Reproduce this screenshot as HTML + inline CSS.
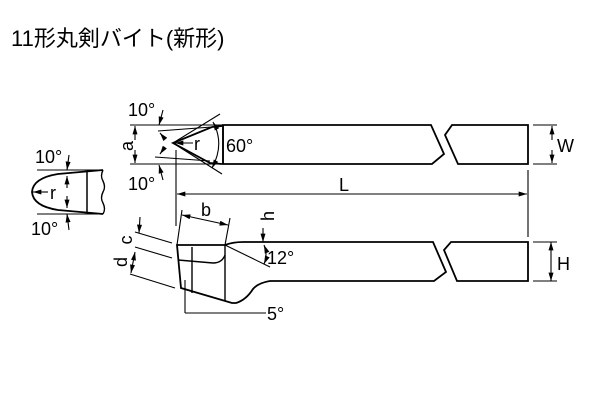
<!DOCTYPE html>
<html><head><meta charset="utf-8"><style>
body{margin:0;background:#fff;width:600px;height:412px;overflow:hidden}
text{font-family:"Liberation Sans","Noto Sans CJK JP",sans-serif;fill:#000}
</style></head><body>
<svg width="600" height="412" viewBox="0 0 600 412" xmlns="http://www.w3.org/2000/svg">
<defs><marker id="a" viewBox="0 0 10 6" refX="10" refY="3" markerWidth="9" markerHeight="5" orient="auto-start-reverse" markerUnits="userSpaceOnUse"><path d="M0,0L10,3L0,6z"/></marker></defs>
<text x="11" y="46" font-size="22">11形丸剣バイト(新形)</text>
<g fill="none" stroke="#000" stroke-width="1.1">
<!-- front view -->
<line x1="37" y1="170" x2="103" y2="170"/><line x1="37" y1="214" x2="103" y2="214"/>
<path d="M103,170 L58,174 Q33,178 32,192 Q33,206 58,210 L103,214" stroke-width="1.8"/>
<path d="M103,170 q-3,6 0,11 q3,6 0,11 q-3,6 0,11 q3,6 0,11" stroke-width="1.4"/>
<line x1="87" y1="172" x2="87" y2="212" stroke-width="1.5"/>
<line x1="67" y1="188" x2="67" y2="176" marker-end="url(#a)"/><line x1="67" y1="196" x2="67" y2="208" marker-end="url(#a)"/>
<line x1="48" y1="192" x2="33" y2="192" marker-end="url(#a)"/>
<line x1="69" y1="155" x2="67" y2="170" marker-end="url(#a)"/><line x1="69" y1="230" x2="67" y2="214" marker-end="url(#a)"/>
<!-- top view -->
<line x1="130" y1="125" x2="223" y2="125"/><line x1="130" y1="164" x2="223" y2="164"/>
<line x1="135" y1="140" x2="135" y2="126" marker-end="url(#a)"/><line x1="135" y1="150" x2="135" y2="163" marker-end="url(#a)"/>
<path d="M223,125 L431,125 L444,154 L432,164 L223,164 Z" stroke-width="1.8"/>
<path d="M222,126 L212,127 L173,143 L210,163 L222,164" stroke-width="1.8"/>
<line x1="223" y1="125" x2="223" y2="164" stroke-width="1.5"/>
<path d="M452,125 L528,125 L528,164 L458,164 L445,135 Z" stroke-width="1.8"/>
<line x1="158" y1="131" x2="212" y2="127"/><line x1="155" y1="157" x2="210" y2="161"/>
<line x1="173" y1="143" x2="222" y2="174"/><line x1="173" y1="143" x2="220" y2="114"/>
<path d="M213,122 Q225,144 212,168" marker-start="url(#a)" marker-end="url(#a)"/>
<line x1="165" y1="139" x2="160" y2="133" marker-end="url(#a)"/><line x1="165" y1="147" x2="160" y2="154" marker-end="url(#a)"/>
<line x1="193" y1="143" x2="175" y2="143" marker-end="url(#a)"/>
<line x1="163" y1="110" x2="159" y2="125" marker-end="url(#a)"/><line x1="163" y1="180" x2="159" y2="165" marker-end="url(#a)"/>
<line x1="533" y1="125" x2="557" y2="125"/><line x1="533" y1="164" x2="557" y2="164"/>
<line x1="552" y1="140" x2="552" y2="126" marker-end="url(#a)"/><line x1="552" y1="150" x2="552" y2="163" marker-end="url(#a)"/>
<!-- L -->
<line x1="176" y1="150" x2="176" y2="226"/><line x1="528" y1="170" x2="528" y2="237"/>
<line x1="177" y1="194" x2="527" y2="194" marker-start="url(#a)" marker-end="url(#a)"/>
<!-- side view -->
<path d="M243,242 L433,242 L446,272 L434,281 L270,281 Q258,283 253,289 Q246,300 236,303 L232,303 L181,288 L177,245 L225,245 Q233,242 243,242" stroke-width="1.8"/>
<path d="M451,242 L528,242 L528,281 L457,281 L444,250 Z" stroke-width="1.8"/>
<line x1="225" y1="245" x2="225" y2="301" stroke-width="1.4"/>
<line x1="192" y1="247" x2="192" y2="293" stroke-width="1.4"/>
<path d="M178,260 L213,263 Q222,263 225,255" stroke-width="1.4"/>
<line x1="185" y1="280" x2="185" y2="313"/><line x1="185" y1="313" x2="266" y2="313"/>
<line x1="225" y1="245" x2="270" y2="267"/><line x1="243" y1="242" x2="270" y2="242"/>
<path d="M264,245 Q268,255 264,264" marker-start="url(#a)" marker-end="url(#a)"/>
<line x1="263" y1="228" x2="263" y2="242" marker-end="url(#a)"/>
<line x1="177" y1="245" x2="182" y2="210"/><line x1="225" y1="245" x2="230" y2="218"/>
<line x1="182" y1="215" x2="228" y2="225" marker-start="url(#a)" marker-end="url(#a)"/>
<line x1="135" y1="232" x2="172" y2="243"/><line x1="135" y1="247" x2="172" y2="258"/><line x1="130" y1="274" x2="175" y2="288"/>
<line x1="140" y1="217" x2="139" y2="233" marker-end="url(#a)"/>
<line x1="135" y1="252" x2="131" y2="273" marker-start="url(#a)" marker-end="url(#a)"/>
<line x1="551" y1="242" x2="551" y2="281" marker-start="url(#a)" marker-end="url(#a)"/>
<line x1="533" y1="242" x2="557" y2="242"/><line x1="533" y1="281" x2="557" y2="281"/>
</g>
<g font-size="18">
<text x="35" y="163">10°</text><text x="31" y="235">10°</text>
<text x="50" y="199">r</text>
<text x="128" y="116">10°</text><text x="128" y="190">10°</text>
<text x="194" y="150">r</text><text x="226" y="152">60°</text>
<text x="557" y="152">W</text><text x="557" y="270">H</text>
<text x="339" y="191">L</text>
<text x="201" y="216">b</text>
<text x="267" y="264">12°</text><text x="267" y="320">5°</text>
<text transform="translate(133,146) rotate(-90)" text-anchor="middle">a</text>
<text transform="translate(274,216) rotate(-90)" text-anchor="middle">h</text>
<text transform="translate(132,240) rotate(-90)" text-anchor="middle">c</text>
<text transform="translate(127,262) rotate(-90)" text-anchor="middle">d</text>
</g>
</svg>
</body></html>
